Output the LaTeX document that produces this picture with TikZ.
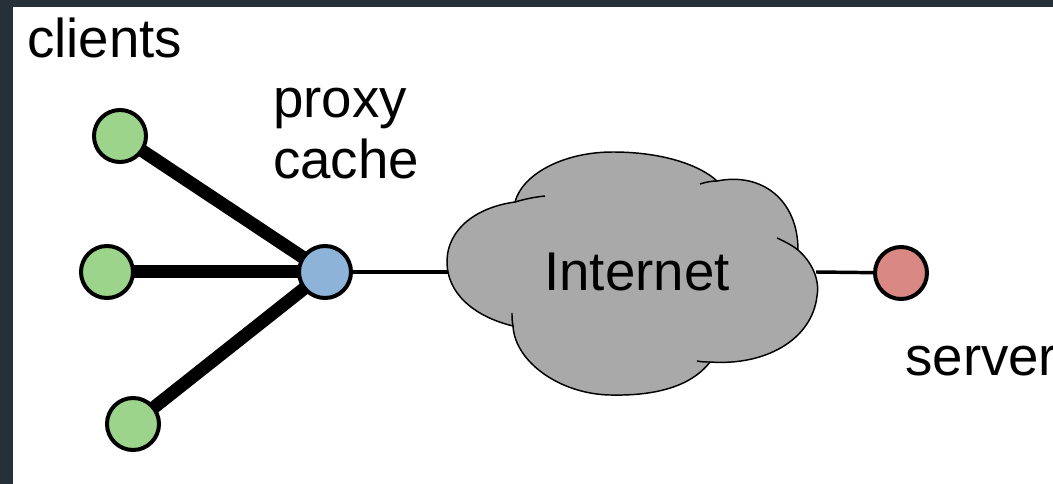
\documentclass[tikz,border=0pt]{standalone}
\usepackage{fontspec}
\setmainfont{Liberation Sans}
\definecolor{frame}{HTML}{272F38}
\definecolor{clientgreen}{HTML}{9CD48C}
\definecolor{proxyblue}{HTML}{8DB4D8}
\definecolor{serverred}{HTML}{D98884}
\definecolor{cloudgray}{HTML}{A9A9A9}
\pgfdeclarelayer{back}
\pgfdeclarelayer{links}
\pgfsetlayers{back,links,main}
\tikzset{
  host/.style={circle, draw=black, line width=3pt, minimum size=39pt, inner sep=0pt},
  client/.style={host, fill=clientgreen},
  proxy/.style={host, fill=proxyblue},
  server/.style={host, fill=serverred},
  thicklink/.style={line width=9.75pt},
  thinlink/.style={line width=2.6pt},
  label/.style={inner sep=0pt, anchor=base west, font=\fontsize{41}{49}\selectfont},
  cloudline/.style={line width=1.1pt}
}
\begin{document}
\begin{tikzpicture}[x=0.75pt, y=-0.75pt]
\begin{pgfonlayer}{back}
\fill[frame] (0,0) rectangle (1053,484);
\fill[white] (13,7) rectangle (1053,484);
\end{pgfonlayer}
\useasboundingbox (0,0) rectangle (1053,484);

% hosts
\node[client] (c1) at (120,136) {};
\node[client] (c2) at (107,272) {};
\node[client] (c3) at (133,424) {};
\node[proxy]  (px) at (325,272) {};
\node[server] (sv) at (901,273) {};

\begin{pgfonlayer}{links}
\draw[thicklink] (c1.center) -- (px.center);
\draw[thicklink] (c2.center) -- (px.center);
\draw[thicklink] (c3.center) -- (px.center);
\end{pgfonlayer}

% cloud
\coordinate (cloudL) at (448,272);
\coordinate (cloudR) at (816,272);
\filldraw[cloudline, fill=cloudgray]
  (447,262) .. controls (447,228) and (478,207) .. (515,202)
  .. controls (522,175) and (562,152) .. (613,152)
  .. controls (662,152) and (700,165) .. (717,181)
  .. controls (762,172) and (798,200) .. (798,250)
  .. controls (812,262) and (820,280) .. (817,296)
  .. controls (812,340) and (765,366) .. (710,362)
  .. controls (690,388) and (652,396) .. (610,395)
  .. controls (560,394) and (515,362) .. (513,326)
  .. controls (472,316) and (447,292) .. (447,262) -- cycle;
\draw[cloudline] (515,202) .. controls (525,199) and (535,197) .. (545,196);
\draw[cloudline] (700,184) .. controls (706,182) and (712,181) .. (717,181);
\draw[cloudline] (777,238) .. controls (786,242) and (793,246) .. (798,250);
\draw[cloudline] (697,361) .. controls (702,362) and (706,362) .. (710,362);
\draw[cloudline] (513,326) .. controls (512,321) and (512,317) .. (512,313);
\node[font=\fontsize{41}{49}\selectfont, inner sep=0pt] (inet) at (637,272) {Internet};

\draw[thinlink] (px) -- (cloudL);
\draw[thinlink] (cloudR) -- (sv);

% labels
\node[label] (lclients) at (27,58) {clients};
\node[label] (lproxy) at (273,118) {proxy};
\node[label] (lcache) at (273,179) {cache};
\node[label] (lserver) at (905,376) {server};
\end{tikzpicture}
\end{document}
